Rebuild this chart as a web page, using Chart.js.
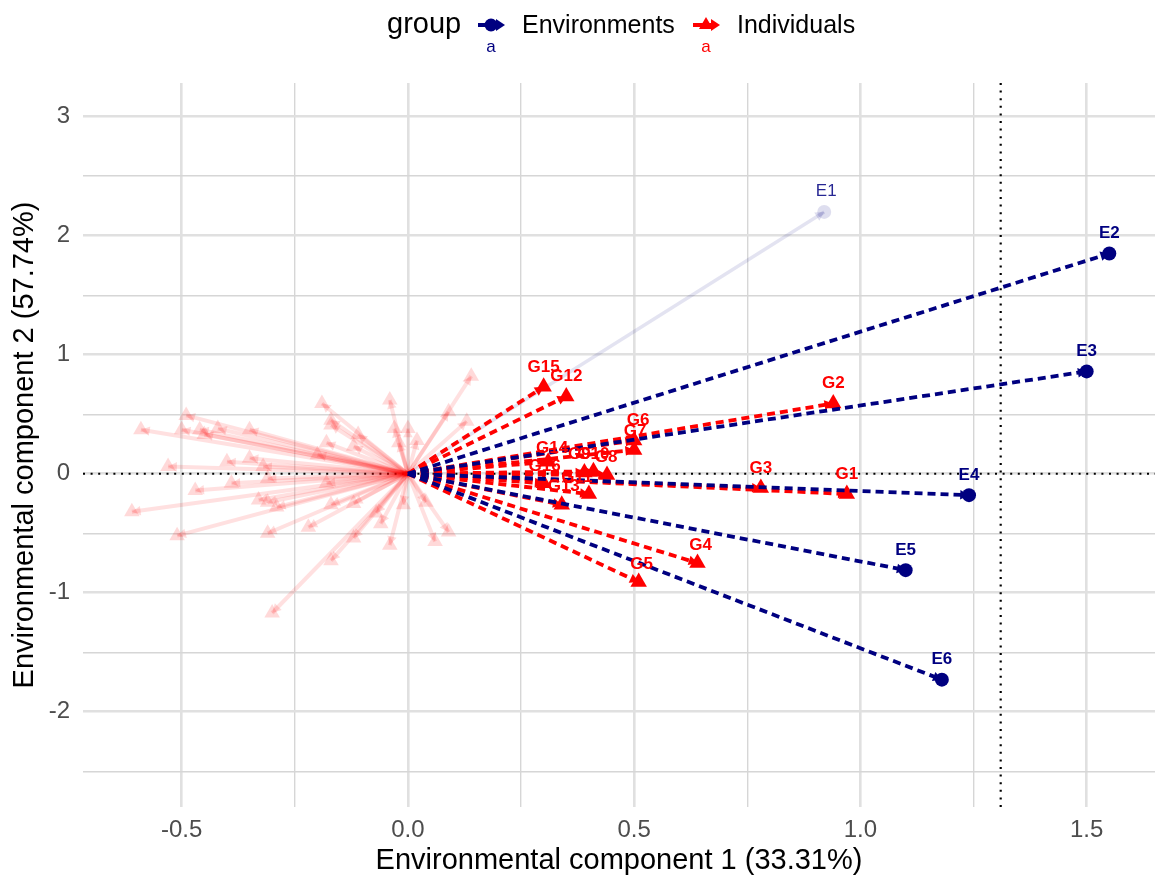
<!DOCTYPE html>
<html>
<head>
<meta charset="utf-8">
<script src="https://cdn.jsdelivr.net/npm/chart.js@4"></script>
<style>
html,body{margin:0;padding:0;background:#fff;overflow:hidden;}
#wrap{width:1155px;height:879px;}
canvas{display:block;}
</style>
</head>
<body>
<div id="wrap"><canvas id="biplot" width="1155" height="879"></canvas></div>
<script>
// environments (E1 is shown faded)
const envNames = ['E1', 'E2', 'E3', 'E4', 'E5', 'E6'];
const envX = [0.92, 1.55, 1.50, 1.24, 1.10, 1.18];
const envY = [2.20, 1.85, 0.86, -0.18, -0.81, -1.73];
const envFaded = ['E1'];

// highlighted individuals
const genoNames = ['G1', 'G2', 'G3', 'G4', 'G5', 'G6', 'G7', 'G8', 'G9', 'G10', 'G11', 'G12', 'G13', 'G14', 'G15', 'G16'];
const genoX = [0.97, 0.94, 0.78, 0.64, 0.51, 0.50, 0.50, 0.44, 0.39, 0.41, 0.40, 0.35, 0.34, 0.31, 0.30, 0.30];
const genoY = [-0.17, 0.59, -0.12, -0.75, -0.91, 0.28, 0.20, -0.01, 0.01, 0.02, -0.17, 0.65, -0.26, 0.10, 0.73, -0.08];

// other individuals (faded, unlabelled)
const otherX = [-0.59, -0.49, -0.50, -0.46, -0.45, -0.42, -0.35, -0.53, -0.40, -0.35, -0.32, -0.31, -0.47, -0.39, -0.33, -0.31, -0.29,
  -0.61, -0.51, -0.31, -0.22, -0.17, -0.30, -0.19, -0.17, -0.17, -0.11, -0.12, -0.18, -0.20, -0.18, -0.17, -0.12, -0.12,
  -0.04, -0.03, 0.00, -0.02, -0.06, -0.04, -0.01, -0.07, 0.14, 0.09, 0.13, 0.02, 0.09, 0.06, 0.04];
const otherY = [0.37, 0.49, 0.37, 0.37, 0.33, 0.38, 0.37, 0.06, 0.10, 0.13, 0.06, -0.04, -0.14, -0.08, -0.22, -0.24, -0.28,
  -0.32, -0.52, -0.50, -0.45, -0.73, -1.17, 0.59, 0.45, 0.41, 0.33, 0.23, 0.26, 0.16, -0.08, -0.26, -0.25, -0.54,
  0.62, 0.38, 0.38, 0.26, -0.42, -0.60, -0.26, -0.33, 0.82, 0.52, 0.44, 0.28, -0.49, -0.57, -0.24];

const xTicks = [-0.5, 0, 0.5, 1, 1.5];
const yTicks = [-2, -1, 0, 1, 2, 3];
const vline = 1.31;

const NAVY = '#000080';
const RED = '#ff0000';
const FONT = '"Liberation Sans", Arial, Helvetica, sans-serif';

// label nudges (pixels), default is straight above the point
const nudge = {E1: [2, -1], G4: [3, 2], G5: [3, 2], G6: [4, 0], G7: [1, 1], G8: [-1, 2], G9: [-5, 2], G10: [0, 3],
  G11: [-12, 3], G13: [2, 2], G14: [4, 6], G16: [1, 3]};

let datasets = [];

for (let i = 0; i < otherX.length; i++) {
  datasets.push({
    data: [{x: 0, y: 0}, {x: otherX[i], y: otherY[i]}],
    showLine: true, order: 3,
    borderColor: 'rgba(255,0,0,0.12)', borderWidth: 4,
    pointRadius: [0, 9], pointStyle: 'triangle',
    pointBackgroundColor: 'rgba(255,0,0,0.15)', pointBorderWidth: 0,
    arrowColor: 'rgba(255,0,0,0.14)'
  });
}

for (let i = 0; i < genoNames.length; i++) {
  datasets.push({
    label: genoNames[i],
    data: [{x: 0, y: 0}, {x: genoX[i], y: genoY[i]}],
    showLine: true, order: 2,
    borderColor: RED, borderWidth: 3.8, borderDash: [8, 5],
    pointRadius: [0, 9.5], pointStyle: 'triangle',
    pointBackgroundColor: RED, pointBorderWidth: 0,
    arrowColor: RED, textColor: RED
  });
}

for (let i = 0; i < envNames.length; i++) {
  let faded = envFaded.includes(envNames[i]);
  datasets.push({
    label: envNames[i],
    data: [{x: 0, y: 0}, {x: envX[i], y: envY[i]}],
    showLine: true, order: faded ? 4 : 1,
    borderColor: faded ? 'rgba(0,0,128,0.11)' : NAVY, borderWidth: faded ? 3.5 : 3.8,
    borderDash: faded ? [] : [8, 5],
    pointRadius: [0, 7], pointStyle: 'circle',
    pointBackgroundColor: faded ? 'rgba(0,0,128,0.13)' : NAVY, pointBorderWidth: 0,
    arrowColor: faded ? 'rgba(0,0,128,0.13)' : NAVY,
    textColor: faded ? 'rgba(0,0,128,0.85)' : NAVY, textWeight: faded ? 'normal' : 'bold'
  });
}

function isOn(v, step) {
  return Math.abs(v / step - Math.round(v / step)) < 1e-6;
}

const refLines = {
  id: 'refLines',
  beforeDatasetsDraw(chart) {
    const {ctx, chartArea: a, scales: {x, y}} = chart;
    ctx.save();
    ctx.strokeStyle = '#000';
    ctx.lineWidth = 2.2;
    ctx.setLineDash([2, 5.6]);
    let py = y.getPixelForValue(0);
    ctx.beginPath(); ctx.moveTo(a.left, py); ctx.lineTo(a.right, py); ctx.stroke();
    let px = x.getPixelForValue(vline);
    ctx.beginPath(); ctx.moveTo(px, a.top); ctx.lineTo(px, a.bottom); ctx.stroke();
    ctx.restore();
  }
};

const arrowHeads = {
  id: 'arrowHeads',
  afterDatasetDraw(chart, args) {
    const ds = chart.data.datasets[args.index];
    if (!ds.arrowColor) return;
    const p0 = args.meta.data[0], p1 = args.meta.data[1];
    const ang = Math.atan2(p1.y - p0.y, p1.x - p0.x);
    const L = 10, w = 0.5;
    const ctx = chart.ctx;
    ctx.save();
    ctx.fillStyle = ds.arrowColor;
    ctx.beginPath();
    ctx.moveTo(p1.x, p1.y);
    ctx.lineTo(p1.x - L * Math.cos(ang - w), p1.y - L * Math.sin(ang - w));
    ctx.lineTo(p1.x - L * Math.cos(ang + w), p1.y - L * Math.sin(ang + w));
    ctx.closePath();
    ctx.fill();
    ctx.restore();
  }
};

const pointLabels = {
  id: 'pointLabels',
  afterDatasetsDraw(chart) {
    const ctx = chart.ctx;
    ctx.save();
    ctx.textAlign = 'center';
    ctx.textBaseline = 'middle';
    chart.data.datasets.forEach((ds, i) => {
      if (!ds.label) return;
      const p = chart.getDatasetMeta(i).data[1];
      const n = nudge[ds.label] || [0, 0];
      ctx.font = (ds.textWeight || 'bold') + ' 17px ' + FONT;
      ctx.fillStyle = ds.textColor;
      ctx.fillText(ds.label, p.x + n[0], p.y - 20 + n[1]);
    });
    ctx.restore();
  }
};

function legendKey(ctx, x, y, color, shape) {
  ctx.save();
  ctx.strokeStyle = color;
  ctx.fillStyle = color;
  ctx.lineWidth = 4;
  ctx.beginPath(); ctx.moveTo(x - 13, y); ctx.lineTo(x + 8, y); ctx.stroke();
  ctx.beginPath(); ctx.moveTo(x + 14, y); ctx.lineTo(x + 5, y - 6); ctx.lineTo(x + 5, y + 6); ctx.closePath(); ctx.fill();
  ctx.beginPath();
  if (shape === 'circle') {
    ctx.arc(x, y, 6.5, 0, Math.PI * 2);
  } else {
    ctx.moveTo(x, y - 8); ctx.lineTo(x + 7, y + 4); ctx.lineTo(x - 7, y + 4); ctx.closePath();
  }
  ctx.fill();
  ctx.font = '17px ' + FONT;
  ctx.textAlign = 'center';
  ctx.textBaseline = 'middle';
  ctx.fillText('a', x, y + 22);
  ctx.restore();
}

const topLegend = {
  id: 'topLegend',
  afterDraw(chart) {
    const ctx = chart.ctx;
    ctx.save();
    ctx.fillStyle = '#000';
    ctx.textBaseline = 'alphabetic';
    ctx.textAlign = 'left';
    ctx.font = '29px ' + FONT;
    ctx.fillText('group', 387, 33);
    legendKey(ctx, 491, 25, NAVY, 'circle');
    ctx.fillStyle = '#000';
    ctx.font = '25px ' + FONT;
    ctx.fillText('Environments', 522, 33);
    legendKey(ctx, 706, 25, RED, 'triangle');
    ctx.fillStyle = '#000';
    ctx.font = '25px ' + FONT;
    ctx.fillText('Individuals', 737, 33);
    ctx.restore();
  }
};

const whiteBg = {
  id: 'whiteBg',
  beforeDraw(chart) {
    const ctx = chart.ctx;
    ctx.save();
    ctx.fillStyle = '#fff';
    ctx.fillRect(0, 0, chart.width, chart.height);
    ctx.restore();
  }
};

new Chart(document.getElementById('biplot'), {
  type: 'scatter',
  data: {datasets: datasets},
  options: {
    responsive: false,
    animation: false,
    layout: {autoPadding: false, padding: {top: 83, right: 0, bottom: 0, left: 0}},
    plugins: {legend: {display: false}, tooltip: {enabled: false}},
    scales: {
      x: {
        type: 'linear', min: -0.718, max: 1.651,
        afterFit(s) { s.height = 72; },
        border: {display: false},
        grid: {
          drawTicks: false,
          color: c => isOn(c.tick.value, 0.5) ? '#e0e0e0' : '#d6d6d6',
          lineWidth: c => isOn(c.tick.value, 0.5) ? 2.6 : 1.4
        },
        ticks: {
          stepSize: 0.25, includeBounds: false, autoSkip: false, maxRotation: 0, padding: 9,
          color: '#4d4d4d', font: {family: FONT, size: 24},
          callback: v => xTicks.some(t => Math.abs(t - v) < 1e-6) ? v.toFixed(1) : ''
        },
        title: {display: true, text: 'Environmental component 1 (33.31%)', color: '#000',
          font: {family: FONT, size: 29}, padding: {top: 0, bottom: 1}}
      },
      y: {
        type: 'linear', min: -2.80, max: 3.283,
        afterFit(s) { s.width = 83; },
        border: {display: false},
        grid: {
          drawTicks: false,
          color: c => isOn(c.tick.value, 1) ? '#e0e0e0' : '#d6d6d6',
          lineWidth: c => isOn(c.tick.value, 1) ? 2.6 : 1.4
        },
        ticks: {
          stepSize: 0.5, includeBounds: false, autoSkip: false, padding: 13,
          color: '#4d4d4d', font: {family: FONT, size: 24},
          callback: v => yTicks.some(t => Math.abs(t - v) < 1e-6) ? String(v) : ''
        },
        title: {display: true, text: 'Environmental component 2 (57.74%)', color: '#000',
          font: {family: FONT, size: 29}, padding: {top: 8, bottom: 0}}
      }
    }
  },
  plugins: [whiteBg, refLines, arrowHeads, pointLabels, topLegend]
});
</script>
</body>
</html>
